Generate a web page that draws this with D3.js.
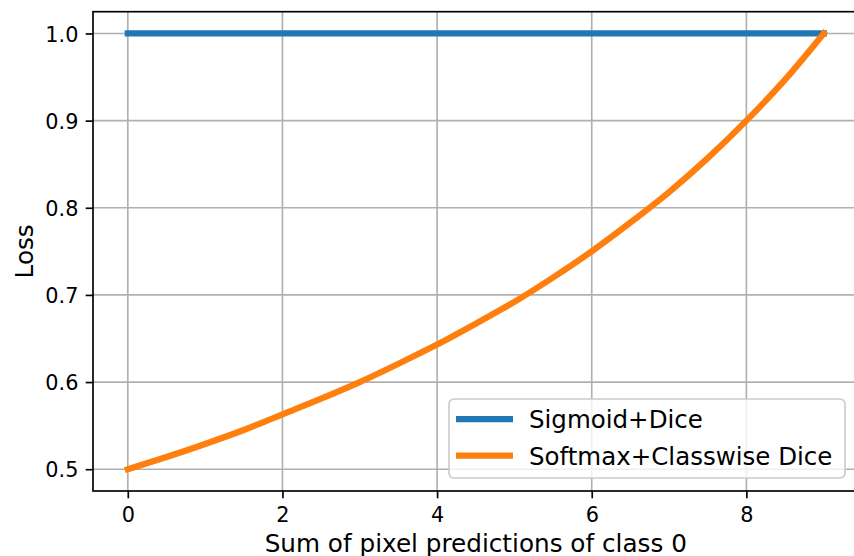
<!DOCTYPE html>
<html><head><meta charset="utf-8">
<script src="https://cdn.jsdelivr.net/npm/d3@7"></script>
<style>
html,body{margin:0;padding:0;background:#fff;overflow:hidden}
svg{display:block;font-family:"DejaVu Sans",sans-serif}
</style></head>
<body>
<svg id="c" width="854" height="556"></svg>
<script>
// Data
const xValues = [0,0.5,1,1.5,2,2.5,3,3.5,4,4.5,5,5.5,6,6.5,7,7.5,8,8.5,9];
const sigmoidDice = [1,1,1,1,1,1,1,1,1,1,1,1,1,1,1,1,1,1,1];
const softmaxClasswiseDice = [0.500,0.514,0.529,0.545,0.563,0.581,0.600,0.621,0.643,0.667,0.692,0.720,0.750,0.783,0.818,0.857,0.900,0.947,1.000];
const seriesNames = ["Sigmoid+Dice","Softmax+Classwise Dice"];
const seriesColors = ["#1f77b4","#ff7f0e"];
const xTicks = [0,2,4,6,8];
const yTicks = [0.5,0.6,0.7,0.8,0.9,1.0];
const xLabel = "Sum of pixel predictions of class 0";
const yLabel = "Loss";

const svg = d3.select("#c");
const L = 93, R = 858.5, T = 11.7, B = 491;
const x = d3.scaleLinear().domain([-0.45, 9.45]).range([L, R]);
const y = d3.scaleLinear().domain([0.475, 1.025]).range([B, T]);

// grid
const g = svg.append("g");
g.selectAll(".gx").data(xTicks).enter().append("line")
  .attr("x1", d=>x(d)).attr("x2", d=>x(d)).attr("y1", T).attr("y2", B)
  .attr("stroke", "#b0b0b0").attr("stroke-width", 1.67);
g.selectAll(".gy").data(yTicks).enter().append("line")
  .attr("x1", L).attr("x2", R).attr("y1", d=>y(d)).attr("y2", d=>y(d))
  .attr("stroke", "#b0b0b0").attr("stroke-width", 1.67);

// lines
const seriesData = [sigmoidDice, softmaxClasswiseDice];
const line = d3.line().x((d,i)=>x(xValues[i])).y(d=>y(d)).curve(d3.curveCatmullRom);
seriesData.forEach((s,k)=>{
  svg.append("path").datum(s).attr("d", line)
    .attr("fill","none").attr("stroke", seriesColors[k])
    .attr("stroke-width", 6.25).attr("stroke-linecap","square").attr("stroke-linejoin","round");
});

// axes
const xAxis = d3.axisBottom(x).tickValues(xTicks).tickFormat(d3.format("d")).tickSize(7.3).tickPadding(7);
const yAxis = d3.axisLeft(y).tickValues(yTicks).tickFormat(d3.format(".1f")).tickSize(7.3).tickPadding(7);
const ax = svg.append("g").attr("transform", `translate(0,${B})`).call(xAxis);
const ay = svg.append("g").attr("transform", `translate(${L},0)`).call(yAxis);
[ax, ay].forEach(a=>{
  a.select(".domain").remove();
  a.selectAll(".tick line").attr("stroke","#000").attr("stroke-width",1.67);
  a.selectAll(".tick text").attr("fill","#000").attr("font-size","20.8px").attr("font-family","DejaVu Sans");
});
ax.selectAll(".tick text").attr("dy", null).attr("y", 31);
ay.selectAll(".tick text").attr("dy", null).attr("y", 7.6).attr("x", -14.6);

// spines
svg.append("rect").attr("x", L).attr("y", T).attr("width", R-L).attr("height", B-T)
  .attr("fill","none").attr("stroke","#000").attr("stroke-width",1.67);

// labels
svg.append("text").attr("x", (L+R)/2).attr("y", 552).attr("text-anchor","middle")
  .attr("font-size","24.7px").text(xLabel);
svg.append("text").attr("transform", `translate(33,${(T+B)/2}) rotate(-90)`).attr("text-anchor","middle")
  .attr("font-size","24.7px").text(yLabel);

// legend
const lg = svg.append("g");
lg.append("rect").attr("x",449).attr("y",399).attr("width",396).attr("height",79).attr("rx",5)
  .attr("fill","#fff").attr("fill-opacity",0.8).attr("stroke","#cccccc").attr("stroke-width",1.67);
const legY = [419, 455.5];
seriesNames.forEach((n,k)=>{
  lg.append("line").attr("x1",456).attr("x2",513).attr("y1",legY[k]).attr("y2",legY[k])
    .attr("stroke",seriesColors[k]).attr("stroke-width",6.25);
  lg.append("text").attr("x",529).attr("y",legY[k]+9).attr("font-size","24.5px").attr("fill","#000").text(n);
});
</script>
</body></html>
